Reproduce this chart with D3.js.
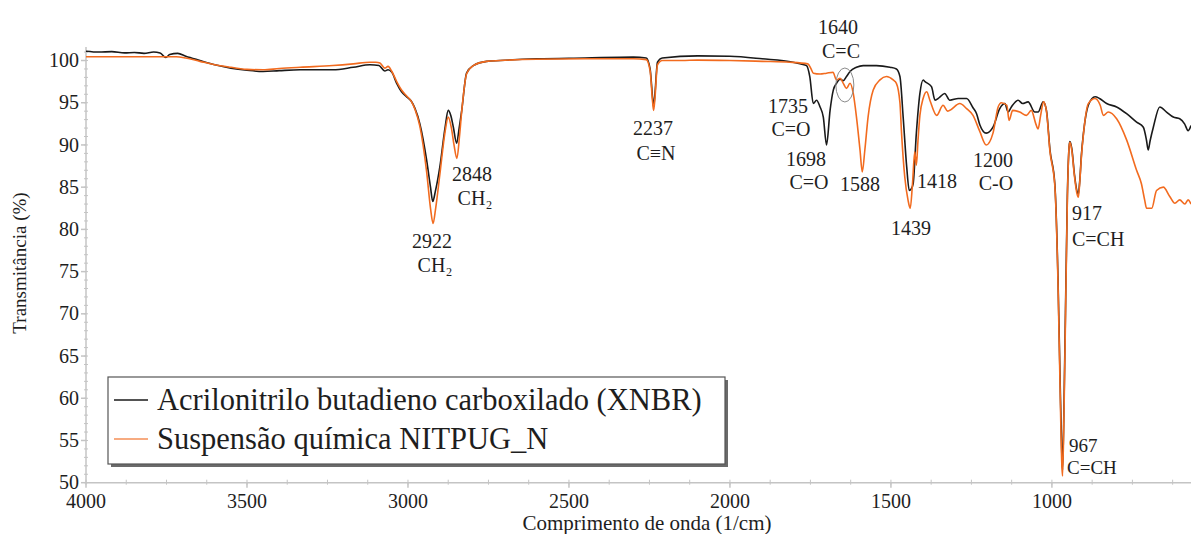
<!DOCTYPE html>
<html>
<head>
<meta charset="utf-8">
<script src="https://cdn.jsdelivr.net/npm/d3@7"></script>
<style>
  html, body { margin: 0; padding: 0; background: #fff; }
  svg { display: block; font-family: "Liberation Serif", "Times New Roman", serif; }
</style>
</head>
<body>
<svg id="chart" width="1191" height="534"></svg>
<script>
// ---------- DATA ----------
const seriesNames = ["Acrilonitrilo butadieno carboxilado (XNBR)", "Suspensão química NITPUG_N"];
const seriesColors = ["#1a1a1a", "#f26b1f"];

const xnbrWavenumber = [4000,3960,3920,3880,3850,3820,3790,3770,3752,3740,3715,3690,3646,3600,3550,3500,3450,3400,3335,3233,3170,3118,3090,3072,3062,3050,3035,3020,3004,2990,2978,2963,2942,2930,2923,2915,2901,2885,2875,2867,2859,2849,2841,2833,2818,2797,2756,2714,2600,2450,2300,2260,2248,2240,2237,2233,2225,2210,2100,2000,1900,1804,1770,1762,1752,1741,1731,1720,1710,1700,1689,1679,1669,1658,1648,1638,1627,1607,1586,1545,1503,1483,1472,1462,1451,1443,1437,1431,1421,1410,1400,1394,1374,1363,1350,1333,1317,1291,1265,1245,1234,1224,1204,1183,1162,1146,1136,1126,1105,1091,1074,1053,1043,1027,1017,1006,991,981,975,969,967,963,958,952,946,944,938,930,922,918,914,908,902,887,866,852,830,799,768,737,716,706,701,695,685,665,644,623,603,588,577,568];
const xnbrTransmittance = [101.1,101.0,101.05,100.9,100.95,100.85,101.0,100.9,100.35,100.7,100.85,100.5,100.0,99.5,99.1,98.85,98.7,98.8,98.9,98.9,99.2,99.5,99.4,98.75,98.9,98.6,97.3,96.3,95.7,95.2,94.3,92.5,88.2,85.0,83.3,84.5,87.4,92.0,94.1,93.5,92.1,90.2,92.0,94.1,98.5,99.4,99.9,100.0,100.2,100.3,100.4,100.3,99.0,95.5,94.5,96.0,99.8,100.3,100.55,100.5,100.2,99.8,99.5,99.4,98.1,94.9,95.3,94.5,93.3,90.0,94.1,96.5,97.3,97.8,97.6,98.1,98.7,99.2,99.4,99.4,99.2,99.0,98.1,93.3,87.4,84.6,84.8,85.4,91.4,96.1,97.7,97.5,96.9,95.3,95.6,96.1,95.3,95.5,95.5,94.4,93.7,92.4,91.4,92.1,94.3,94.9,93.9,94.5,95.3,94.9,95.1,93.9,93.9,95.1,94.1,89.4,85.4,74.0,63.0,53.0,51.5,58.0,70.0,84.0,90.0,90.4,89.5,86.5,84.5,84.2,85.5,89.0,91.4,94.7,95.7,95.5,94.9,94.5,93.7,92.7,92.1,90.5,89.4,90.5,92.1,94.5,93.9,93.3,93.1,92.5,91.7,92.3];

const nitpugWavenumber = [4000,3800,3720,3690,3646,3600,3550,3500,3450,3400,3335,3233,3170,3118,3100,3087,3072,3062,3050,3035,3020,3004,2990,2978,2963,2942,2930,2922,2914,2901,2885,2875,2865,2857,2848,2840,2833,2818,2797,2756,2714,2600,2450,2300,2260,2248,2240,2237,2233,2225,2210,2150,2100,2000,1900,1814,1758,1748,1741,1720,1700,1680,1669,1658,1648,1638,1627,1617,1607,1596,1589,1581,1571,1555,1534,1514,1493,1483,1472,1467,1457,1447,1440,1433,1426,1421,1416,1410,1400,1389,1379,1358,1338,1324,1317,1286,1265,1245,1224,1204,1183,1167,1157,1140,1133,1122,1100,1079,1064,1050,1043,1035,1026,1017,1006,991,981,975,969,967,963,958,952,946,944,938,930,922,918,914,908,902,887,866,850,840,825,799,768,737,722,712,706,690,675,654,634,618,603,587,577,568];
const nitpugTransmittance = [100.45,100.45,100.45,100.3,99.9,99.5,99.2,98.95,98.9,99.05,99.2,99.4,99.6,99.8,99.8,99.7,99.1,99.3,98.7,97.5,96.5,95.8,95.2,94.2,92.2,86.8,82.5,80.7,82.5,86.5,91.5,93.3,92.0,90.0,88.4,91.0,94.0,98.4,99.4,99.9,100.0,100.15,100.2,100.2,100.1,98.8,95.0,94.1,95.5,99.5,100.0,100.0,100.05,100.0,99.9,99.8,99.6,99.0,98.5,98.4,98.5,98.6,97.7,97.9,97.3,96.7,97.3,96.1,93.3,89.4,86.8,89.4,93.3,96.5,97.7,98.1,97.7,97.3,95.0,91.4,86.2,83.5,82.5,85.4,89.2,87.6,90.5,93.5,95.5,96.3,95.3,93.5,94.7,94.0,94.1,94.9,94.3,93.5,91.6,90.0,91.4,94.5,95.0,94.7,92.9,94.1,93.9,93.5,94.1,92.5,91.9,93.5,95.1,94.0,89.2,85.2,73.5,62.0,52.0,50.8,57.0,69.0,83.5,90.0,90.3,89.3,86.3,84.2,83.8,85.3,88.8,91.3,94.9,95.5,94.7,93.5,93.9,93.1,90.6,87.0,85.4,83.5,82.5,82.5,84.6,85.0,83.9,83.1,83.5,83.0,83.5,83.0];

const xTickValues = [4000,3500,3000,2500,2000,1500,1000];
const yTickValues = [50,55,60,65,70,75,80,85,90,95,100];

// Peak annotation texts (one entry per labelled band)
const annotationLabels = [["2922","CH₂"],["2848","CH₂"],["2237","C≡N"],["1735","C=O"],["1698","C=O"],["1640","C=C"],["1588"],["1439"],["1418"],["1200","C-O"],["917","C=CH"],["967","C=CH"]];

// ---------- CHART ----------
const svg = d3.select("#chart");
const mLeft = 86, mRight = 1191, mTop = 47, mBottom = 482.7;

const x = d3.scaleLinear().domain([4000, 568]).range([mLeft, mRight]);
const y = d3.scaleLinear().domain([50, 101.6]).range([mBottom, mTop]);

const axisColor = "#c4c4c4";
const textColor = "#1e1e1e";

// y axis
const yAxis = svg.append("g").attr("transform", `translate(${mLeft},0)`);
yAxis.append("line").attr("x1",0).attr("x2",0).attr("y1",mTop).attr("y2",mBottom).attr("stroke",axisColor).attr("stroke-width",1.5);
yAxis.selectAll("line.minor").data(d3.range(50, 101.01, 1)).enter().append("line")
  .attr("class","minor").attr("x1",-2).attr("x2",2).attr("y1",d=>y(d)).attr("y2",d=>y(d))
  .attr("stroke",axisColor).attr("stroke-width",1);
yAxis.selectAll("line.major").data(yTickValues).enter().append("line")
  .attr("class","major").attr("x1",-5).attr("x2",0).attr("y1",d=>y(d)).attr("y2",d=>y(d))
  .attr("stroke",axisColor).attr("stroke-width",1.5);
yAxis.selectAll("text").data(yTickValues).enter().append("text")
  .attr("x",-7).attr("y",d=>y(d)).attr("dy","0.33em").attr("text-anchor","end")
  .attr("font-size",20).attr("fill",textColor).text(d=>d);

// x axis
const xAxis = svg.append("g").attr("transform", `translate(0,${mBottom})`);
xAxis.append("line").attr("x1",mLeft).attr("x2",mRight).attr("y1",0).attr("y2",0).attr("stroke",axisColor).attr("stroke-width",1.5);
xAxis.selectAll("line.minor").data(d3.range(4000, 568, -125)).enter().append("line")
  .attr("class","minor").attr("x1",d=>x(d)).attr("x2",d=>x(d)).attr("y1",-3).attr("y2",2)
  .attr("stroke",axisColor).attr("stroke-width",1);
xAxis.selectAll("line.major").data(xTickValues).enter().append("line")
  .attr("class","major").attr("x1",d=>x(d)).attr("x2",d=>x(d)).attr("y1",0).attr("y2",5)
  .attr("stroke",axisColor).attr("stroke-width",1.5);
xAxis.selectAll("text").data(xTickValues).enter().append("text")
  .attr("x",d=>x(d)).attr("y",19).attr("dy","0.33em").attr("text-anchor","middle")
  .attr("font-size",20).attr("fill",textColor).text(d=>d);

// axis titles
svg.append("text").attr("x",647).attr("y",530).attr("text-anchor","middle")
  .attr("font-size",21).attr("fill",textColor).text("Comprimento de onda (1/cm)");
svg.append("text").attr("transform",`translate(26,263) rotate(-90)`).attr("text-anchor","middle")
  .attr("font-size",19).attr("fill",textColor).text("Transmitância (%)");

// lines
const line = d3.line().x(d=>x(d[0])).y(d=>y(d[1])).curve(d3.curveMonotoneX);
const xnbrData = xnbrWavenumber.map((w,i)=>[w, xnbrTransmittance[i]]);
const nitpugData = nitpugWavenumber.map((w,i)=>[w, nitpugTransmittance[i]]);

svg.append("path").datum(xnbrData).attr("d",line).attr("fill","none")
  .attr("stroke",seriesColors[0]).attr("stroke-width",1.6).attr("stroke-linejoin","round");
svg.append("path").datum(nitpugData).attr("d",line).attr("fill","none")
  .attr("stroke",seriesColors[1]).attr("stroke-width",1.6).attr("stroke-linejoin","round");

// ellipse highlight at 1640
svg.append("ellipse").attr("cx",x(1640)-1).attr("cy",y(97.1)).attr("rx",9).attr("ry",17)
  .attr("fill","none").attr("stroke","#8a8a8a").attr("stroke-width",1);

// annotations (placement)
const annoX = [432, 472, 653, 788, 806, 838, 860, 911, 937, 993, 1072, 1069];
const annoAnchor = ["middle","middle","middle","middle","middle","middle","middle","middle","middle","middle","start","start"];
const annoFirstY = [241, 174, 128, 106, 159, 27, 184, 228, 181, 160, 213, 445];
const annoLineGap = [24, 24, 25, 23, 23, 24, 24, 24, 24, 23, 26, 22];
const annoSize = [20,20,20,20,20,20,20,20,20,20,20,19];
annotationLabels.forEach((lines, i) => {
  const t = svg.append("text").attr("text-anchor", annoAnchor[i]).attr("fill", textColor).attr("font-size", annoSize[i]);
  lines.forEach((s, j) => {
    t.append("tspan").attr("x", annoX[i] + (j>0 && annoAnchor[i]==="middle" ? 3 : 0) - (i===11 && j>0 ? 2 : 0))
      .attr("y", annoFirstY[i] + j*annoLineGap[i]).attr("dy","0.35em").text(s);
  });
});

// legend
const lg = svg.append("g");
lg.append("rect").attr("x",111).attr("y",380).attr("width",617).attr("height",87).attr("fill","#6a6a6a");
lg.append("rect").attr("x",108).attr("y",377).attr("width",617).attr("height",87).attr("fill","#fff")
  .attr("stroke","#555").attr("stroke-width",1.2);
seriesNames.forEach((n,i) => {
  const yy = 400 + i*39;
  lg.append("line").attr("x1",114).attr("x2",148).attr("y1",yy).attr("y2",yy)
    .attr("stroke", seriesColors[i]).attr("stroke-width", 1.6).attr("opacity", i===1?0.75:1);
  lg.append("text").attr("x",157).attr("y",yy).attr("dy","0.32em").attr("font-size",30.5)
    .attr("fill",textColor).text(n);
});
</script>
</body>
</html>
